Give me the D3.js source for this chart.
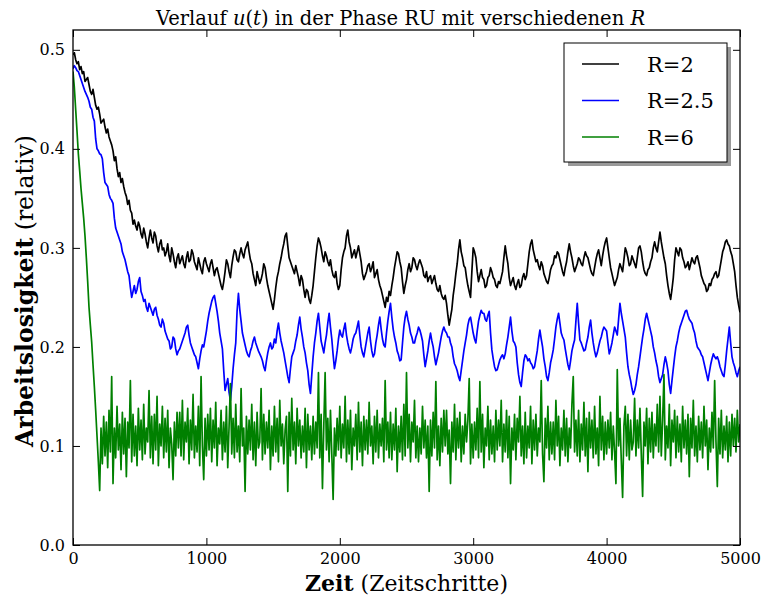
<!DOCTYPE html>
<html><head><meta charset="utf-8">
<script src="https://cdn.jsdelivr.net/npm/d3@7"></script>
<style>html,body{margin:0;padding:0;background:#fff;}</style>
</head><body>
<svg id="chart" width="763" height="600"></svg>
<script>
// ---- data ----
const timeStep = 10;           // Zeitschritte between stored samples
const xTicks = [0, 1000, 2000, 3000, 4000, 5000];
const yTicks = [0.0, 0.1, 0.2, 0.3, 0.4, 0.5];
const seriesNames = ["R=2", "R=2.5", "R=6"];
const seriesColors = ["#000000", "#0000ff", "#008000"];

const r2 = [
0.495,0.497,0.490,0.486,0.488,0.480,0.483,0.476,0.478,0.468,0.470,0.472,0.465,0.458,0.455,0.460,0.452,0.444,0.440,0.442,
0.435,0.426,0.428,0.430,0.422,0.416,0.420,0.412,0.408,0.404,0.398,0.388,0.392,0.380,0.372,0.376,0.366,0.370,0.362,0.356,
0.352,0.344,0.348,0.338,0.335,0.324,0.328,0.322,0.318,0.326,0.322,0.314,0.310,0.320,0.314,0.306,0.300,0.310,0.318,0.310,
0.305,0.316,0.312,0.302,0.296,0.304,0.308,0.298,0.300,0.292,0.296,0.304,0.292,0.286,0.300,0.294,0.286,0.280,0.290,0.294,
0.284,0.288,0.292,0.284,0.280,0.290,0.296,0.286,0.288,0.298,0.294,0.286,0.282,0.278,0.290,0.284,0.278,0.274,0.286,0.290,
0.284,0.280,0.276,0.284,0.288,0.280,0.272,0.278,0.280,0.274,0.268,0.262,0.258,0.266,0.276,0.288,0.284,0.276,0.270,0.282,
0.291,0.298,0.296,0.288,0.286,0.294,0.300,0.294,0.290,0.298,0.302,0.306,0.296,0.288,0.284,0.274,0.268,0.262,0.276,0.270,
0.264,0.268,0.274,0.284,0.280,0.270,0.262,0.256,0.250,0.244,0.238,0.248,0.260,0.270,0.276,0.284,0.290,0.298,0.304,0.312,
0.315,0.302,0.290,0.286,0.282,0.278,0.274,0.282,0.276,0.270,0.262,0.272,0.268,0.258,0.250,0.258,0.256,0.248,0.244,0.252,
0.262,0.276,0.290,0.302,0.310,0.306,0.300,0.292,0.286,0.296,0.292,0.286,0.282,0.288,0.278,0.272,0.270,0.276,0.264,0.258,
0.262,0.278,0.290,0.296,0.300,0.312,0.318,0.306,0.300,0.290,0.294,0.298,0.290,0.296,0.302,0.294,0.286,0.274,0.268,0.272,
0.276,0.282,0.284,0.276,0.280,0.286,0.270,0.274,0.278,0.268,0.262,0.258,0.252,0.246,0.240,0.250,0.246,0.256,0.252,0.262,
0.270,0.280,0.288,0.296,0.294,0.286,0.280,0.266,0.254,0.262,0.268,0.278,0.284,0.276,0.280,0.290,0.288,0.282,0.278,0.284,
0.288,0.284,0.280,0.272,0.270,0.276,0.266,0.270,0.272,0.264,0.268,0.272,0.264,0.258,0.256,0.262,0.254,0.250,0.248,0.252,
0.244,0.232,0.222,0.230,0.238,0.252,0.262,0.274,0.284,0.298,0.308,0.296,0.290,0.282,0.280,0.270,0.262,0.256,0.250,0.276,
0.300,0.296,0.290,0.276,0.266,0.272,0.278,0.270,0.268,0.260,0.262,0.270,0.272,0.280,0.276,0.270,0.268,0.262,0.260,0.266,
0.264,0.270,0.276,0.290,0.302,0.292,0.284,0.270,0.262,0.266,0.270,0.262,0.258,0.264,0.268,0.260,0.262,0.270,0.274,0.268,
0.272,0.284,0.296,0.304,0.308,0.298,0.292,0.286,0.288,0.282,0.278,0.286,0.282,0.274,0.270,0.266,0.264,0.270,0.278,0.282,
0.284,0.292,0.290,0.296,0.294,0.288,0.282,0.276,0.272,0.280,0.286,0.296,0.304,0.296,0.290,0.282,0.276,0.280,0.284,0.290,
0.288,0.284,0.282,0.290,0.296,0.292,0.290,0.284,0.278,0.274,0.272,0.280,0.288,0.294,0.298,0.290,0.282,0.292,0.300,0.306,
0.310,0.300,0.290,0.280,0.274,0.268,0.262,0.266,0.270,0.278,0.284,0.280,0.276,0.288,0.300,0.296,0.290,0.282,0.284,0.292,
0.288,0.284,0.280,0.290,0.300,0.302,0.296,0.286,0.278,0.274,0.272,0.278,0.280,0.286,0.290,0.300,0.306,0.300,0.296,0.306,
0.316,0.306,0.298,0.290,0.284,0.272,0.262,0.254,0.248,0.258,0.270,0.288,0.300,0.296,0.292,0.300,0.298,0.290,0.286,0.280,
0.282,0.286,0.278,0.284,0.290,0.286,0.284,0.290,0.292,0.286,0.280,0.272,0.268,0.264,0.262,0.256,0.258,0.264,0.262,0.268,
0.270,0.274,0.276,0.270,0.272,0.280,0.288,0.296,0.300,0.306,0.308,0.304,0.302,0.296,0.292,0.284,0.276,0.262,0.250,0.242,
0.235];

const r25 = [
0.481,0.484,0.482,0.479,0.478,0.474,0.470,0.466,0.462,0.458,0.455,0.452,0.448,0.442,0.440,0.432,0.428,0.410,0.400,0.398,
0.395,0.394,0.390,0.376,0.366,0.364,0.362,0.354,0.350,0.348,0.345,0.330,0.320,0.316,0.312,0.308,0.304,0.296,0.292,0.288,
0.282,0.276,0.272,0.260,0.250,0.256,0.262,0.254,0.258,0.266,0.270,0.256,0.252,0.246,0.248,0.240,0.236,0.244,0.240,0.236,
0.232,0.238,0.240,0.232,0.228,0.222,0.220,0.228,0.224,0.216,0.212,0.208,0.206,0.198,0.200,0.210,0.208,0.198,0.192,0.196,
0.198,0.202,0.206,0.210,0.214,0.220,0.222,0.212,0.204,0.200,0.196,0.192,0.190,0.184,0.178,0.188,0.196,0.202,0.200,0.208,
0.216,0.226,0.234,0.240,0.246,0.250,0.252,0.244,0.236,0.226,0.214,0.206,0.198,0.176,0.156,0.162,0.168,0.154,0.146,0.160,
0.178,0.192,0.204,0.236,0.254,0.238,0.226,0.214,0.208,0.202,0.196,0.192,0.190,0.196,0.200,0.206,0.210,0.204,0.200,0.196,
0.193,0.190,0.186,0.180,0.176,0.186,0.194,0.200,0.204,0.198,0.200,0.208,0.204,0.216,0.224,0.214,0.206,0.200,0.194,0.186,
0.178,0.170,0.164,0.178,0.190,0.194,0.198,0.206,0.212,0.222,0.230,0.218,0.210,0.200,0.194,0.184,0.176,0.162,0.153,0.172,
0.190,0.204,0.214,0.226,0.234,0.220,0.206,0.200,0.194,0.204,0.212,0.224,0.234,0.220,0.208,0.192,0.178,0.186,0.196,0.208,
0.217,0.212,0.210,0.218,0.224,0.212,0.204,0.198,0.194,0.200,0.208,0.212,0.214,0.220,0.226,0.212,0.200,0.194,0.190,0.198,
0.206,0.214,0.220,0.206,0.196,0.190,0.193,0.204,0.212,0.222,0.230,0.218,0.208,0.202,0.200,0.214,0.226,0.236,0.244,0.230,
0.218,0.210,0.204,0.196,0.192,0.186,0.187,0.204,0.220,0.230,0.236,0.228,0.222,0.214,0.210,0.204,0.204,0.210,0.214,0.220,
0.217,0.212,0.206,0.192,0.180,0.188,0.196,0.206,0.214,0.206,0.200,0.190,0.182,0.188,0.194,0.202,0.210,0.216,0.220,0.216,
0.214,0.210,0.210,0.204,0.200,0.190,0.183,0.180,0.176,0.170,0.166,0.176,0.186,0.196,0.204,0.212,0.222,0.228,0.230,0.222,
0.214,0.208,0.204,0.216,0.226,0.232,0.237,0.234,0.234,0.228,0.226,0.232,0.236,0.214,0.197,0.188,0.180,0.176,0.177,0.182,
0.187,0.190,0.192,0.188,0.193,0.202,0.210,0.220,0.230,0.216,0.206,0.204,0.200,0.184,0.172,0.164,0.160,0.174,0.186,0.192,
0.190,0.186,0.188,0.184,0.182,0.178,0.180,0.188,0.196,0.208,0.217,0.208,0.200,0.188,0.180,0.170,0.166,0.174,0.184,0.190,
0.197,0.208,0.220,0.228,0.234,0.224,0.214,0.210,0.207,0.198,0.190,0.182,0.177,0.186,0.196,0.202,0.207,0.226,0.244,0.224,
0.207,0.204,0.200,0.196,0.197,0.204,0.210,0.220,0.227,0.214,0.204,0.196,0.190,0.194,0.200,0.206,0.210,0.216,0.220,0.218,
0.216,0.204,0.193,0.198,0.204,0.212,0.220,0.216,0.212,0.228,0.244,0.234,0.226,0.218,0.210,0.194,0.180,0.172,0.166,0.158,
0.152,0.156,0.162,0.172,0.180,0.190,0.200,0.210,0.218,0.228,0.234,0.228,0.222,0.216,0.210,0.200,0.194,0.186,0.180,0.170,
0.164,0.168,0.172,0.182,0.190,0.184,0.176,0.162,0.153,0.166,0.178,0.190,0.200,0.206,0.214,0.220,0.224,0.228,0.232,0.236,
0.237,0.232,0.228,0.226,0.224,0.218,0.214,0.206,0.200,0.198,0.196,0.192,0.190,0.184,0.178,0.172,0.166,0.174,0.182,0.188,
0.193,0.190,0.188,0.190,0.186,0.180,0.176,0.172,0.170,0.182,0.196,0.208,0.220,0.204,0.190,0.184,0.180,0.174,0.170,0.176,
0.180];

const r6 = [
0.478,0.462,0.440,0.418,0.395,0.378,0.360,0.345,0.330,0.312,0.290,0.266,0.240,0.222,0.205,0.182,0.160,0.136,0.110,0.084,
0.055,0.118,0.082,0.130,0.090,0.124,0.078,0.136,0.094,0.170,0.062,0.118,0.088,0.140,0.096,0.122,0.076,0.134,0.092,0.128,
0.069,0.124,0.098,0.166,0.084,0.132,0.090,0.120,0.080,0.138,0.096,0.126,0.086,0.142,0.092,0.118,0.104,0.156,0.088,0.130,
0.082,0.132,0.096,0.150,0.080,0.122,0.100,0.140,0.088,0.128,0.094,0.136,0.078,0.118,0.102,0.066,0.124,0.090,0.134,0.098,
0.134,0.090,0.146,0.086,0.124,0.104,0.138,0.082,0.126,0.096,0.152,0.088,0.120,0.094,0.140,0.080,0.170,0.100,0.066,0.128,
0.090,0.132,0.096,0.138,0.084,0.126,0.098,0.144,0.080,0.118,0.102,0.136,0.086,0.124,0.094,0.140,0.078,0.120,0.163,0.092,
0.128,0.088,0.142,0.094,0.120,0.084,0.158,0.100,0.118,0.054,0.130,0.092,0.126,0.096,0.142,0.086,0.124,0.080,0.134,0.098,
0.104,0.158,0.086,0.132,0.092,0.124,0.098,0.136,0.076,0.120,0.090,0.140,0.094,0.128,0.084,0.146,0.100,0.122,0.082,0.116,
0.130,0.054,0.134,0.090,0.148,0.096,0.124,0.082,0.138,0.100,0.126,0.088,0.120,0.094,0.138,0.078,0.132,0.096,0.120,0.086,
0.130,0.092,0.124,0.098,0.174,0.088,0.132,0.057,0.120,0.174,0.096,0.128,0.084,0.136,0.092,0.046,0.118,0.090,0.128,0.096,
0.140,0.088,0.122,0.098,0.150,0.084,0.126,0.092,0.136,0.076,0.118,0.100,0.132,0.086,0.144,0.094,0.124,0.080,0.130,0.096,
0.126,0.092,0.144,0.100,0.120,0.082,0.130,0.094,0.136,0.088,0.122,0.100,0.128,0.084,0.166,0.096,0.124,0.088,0.134,0.086,
0.122,0.096,0.138,0.074,0.120,0.094,0.130,0.086,0.142,0.090,0.174,0.098,0.132,0.084,0.124,0.104,0.146,0.088,0.120,0.084,
0.118,0.092,0.140,0.098,0.126,0.088,0.120,0.054,0.126,0.090,0.134,0.098,0.165,0.086,0.120,0.080,0.128,0.094,0.136,0.100,
0.136,0.092,0.116,0.062,0.124,0.094,0.142,0.086,0.128,0.098,0.134,0.084,0.120,0.092,0.132,0.104,0.126,0.168,0.082,0.122,
0.088,0.124,0.096,0.138,0.088,0.165,0.094,0.132,0.078,0.118,0.100,0.140,0.086,0.126,0.092,0.120,0.084,0.136,0.096,0.126,
0.100,0.146,0.084,0.122,0.094,0.136,0.088,0.130,0.062,0.118,0.096,0.132,0.086,0.128,0.104,0.150,0.090,0.120,0.082,0.134,
0.088,0.120,0.098,0.140,0.082,0.126,0.096,0.132,0.090,0.118,0.104,0.166,0.092,0.064,0.128,0.098,0.140,0.086,0.124,0.092,
0.124,0.086,0.146,0.100,0.130,0.080,0.118,0.096,0.136,0.090,0.128,0.084,0.118,0.098,0.142,0.170,0.094,0.126,0.090,0.136,
0.084,0.122,0.096,0.144,0.090,0.128,0.074,0.134,0.098,0.126,0.088,0.140,0.092,0.118,0.080,0.150,0.096,0.130,0.086,0.124,
0.092,0.126,0.098,0.134,0.086,0.120,0.094,0.062,0.177,0.100,0.128,0.086,0.048,0.120,0.140,0.090,0.132,0.086,0.126,0.096,
0.104,0.148,0.090,0.126,0.098,0.138,0.092,0.049,0.124,0.100,0.138,0.082,0.128,0.094,0.134,0.088,0.122,0.100,0.142,0.094,
0.150,0.090,0.126,0.172,0.086,0.120,0.098,0.142,0.080,0.126,0.104,0.136,0.088,0.130,0.094,0.122,0.084,0.140,0.098,0.126,
0.092,0.132,0.069,0.128,0.098,0.146,0.090,0.120,0.084,0.130,0.096,0.124,0.088,0.140,0.100,0.126,0.076,0.118,0.094,0.134,
0.098,0.166,0.104,0.059,0.128,0.092,0.136,0.088,0.120,0.096,0.130,0.084,0.124,0.090,0.132,0.100,0.128,0.094,0.136,0.104,
0.122];

const allSeries = [r2, r25, r6];
const lineWidths = [1.7, 1.7, 1.7];

// ---- layout ----
const plot = {left: 73, right: 740, top: 30, bottom: 545};
const svg = d3.select("#chart");

const x = d3.scaleLinear().domain([0, 5000]).range([plot.left, plot.right]);
const y = d3.scaleLinear().domain([0, 0.52]).range([plot.bottom, plot.top]);

const serif2 = "'DejaVu Serif', serif";

svg.append("defs").append("clipPath").attr("id", "clip")
  .append("rect").attr("x", plot.left).attr("y", plot.top)
  .attr("width", plot.right - plot.left).attr("height", plot.bottom - plot.top);

// lines
const line = d3.line().x((d, i) => x(i * timeStep)).y(d => y(d));
const g = svg.append("g").attr("clip-path", "url(#clip)");
allSeries.forEach((s, k) => {
  g.append("path").datum(s).attr("d", line)
    .attr("fill", "none").attr("stroke", seriesColors[k])
    .attr("stroke-width", lineWidths[k]).attr("stroke-linejoin", "round");
});

// axes (ticks inward, on all four sides)
const tickLen = 7;
const axB = d3.axisBottom(x).tickValues(xTicks).tickSizeInner(-tickLen).tickSizeOuter(0).tickPadding(8).tickFormat(d3.format("d"));
const axT = d3.axisTop(x).tickValues(xTicks).tickSizeInner(-tickLen).tickSizeOuter(0).tickFormat("");
const axL = d3.axisLeft(y).tickValues(yTicks).tickSizeInner(-tickLen).tickSizeOuter(0).tickPadding(8).tickFormat(d3.format(".1f"));
const axR = d3.axisRight(y).tickValues(yTicks).tickSizeInner(-tickLen).tickSizeOuter(0).tickFormat("");

function styleAxis(sel) {
  sel.attr("font-family", serif2).attr("font-size", 16);
  sel.select(".domain").remove();
  sel.selectAll(".tick line").attr("stroke", "#000").attr("stroke-width", 1);
  sel.selectAll(".tick text").attr("fill", "#000");
}
svg.append("g").attr("transform", `translate(0,${plot.bottom})`).call(axB).call(styleAxis);
svg.append("g").attr("transform", `translate(0,${plot.top})`).call(axT).call(styleAxis);
svg.append("g").attr("transform", `translate(${plot.left},0)`).call(axL).call(styleAxis);
svg.append("g").attr("transform", `translate(${plot.right},0)`).call(axR).call(styleAxis);

// frame
svg.append("rect").attr("x", plot.left).attr("y", plot.top)
  .attr("width", plot.right - plot.left).attr("height", plot.bottom - plot.top)
  .attr("fill", "none").attr("stroke", "#000").attr("stroke-width", 1.3);

// title
const cx = (plot.left + plot.right) / 2;
const title = svg.append("text").attr("x", cx - 6).attr("y", 25).attr("text-anchor", "middle")
  .attr("font-family", serif2).attr("font-size", 19.5).attr("fill", "#000");
title.append("tspan").text("Verlauf ");
title.append("tspan").attr("font-style", "italic").text("u");
title.append("tspan").text("(");
title.append("tspan").attr("font-style", "italic").text("t");
title.append("tspan").text(") in der Phase RU mit verschiedenen ");
title.append("tspan").attr("font-style", "italic").text("R");

// x label
const xl = svg.append("text").attr("x", cx).attr("y", 591).attr("text-anchor", "middle")
  .attr("font-family", serif2).attr("font-size", 22).attr("fill", "#000");
xl.append("tspan").attr("font-weight", "bold").text("Zeit");
xl.append("tspan").text(" (Zeitschritte)");

// y label
const yl = svg.append("text").attr("transform", `translate(33,291) rotate(-90)`)
  .attr("text-anchor", "middle").attr("font-family", serif2).attr("font-size", 23.5).attr("fill", "#000");
yl.append("tspan").attr("font-weight", "bold").text("Arbeitslosigkeit");
yl.append("tspan").text(" (relativ)");

// legend
const lg = {x: 564, y: 43, w: 163, h: 119};
svg.append("rect").attr("x", lg.x + 4).attr("y", lg.y + 4).attr("width", lg.w).attr("height", lg.h).attr("fill", "#999");
svg.append("rect").attr("x", lg.x).attr("y", lg.y).attr("width", lg.w).attr("height", lg.h)
  .attr("fill", "#fff").attr("stroke", "#000").attr("stroke-width", 1);
seriesNames.forEach((name, k) => {
  const yy = lg.y + 21 + k * 36.5;
  svg.append("line").attr("x1", lg.x + 18).attr("x2", lg.x + 55).attr("y1", yy).attr("y2", yy)
    .attr("stroke", seriesColors[k]).attr("stroke-width", 1.3);
  svg.append("text").attr("x", lg.x + 83).attr("y", yy + 7.5).attr("font-family", serif2)
    .attr("font-size", 21).attr("fill", "#000").text(name);
});
</script>
</body></html>
